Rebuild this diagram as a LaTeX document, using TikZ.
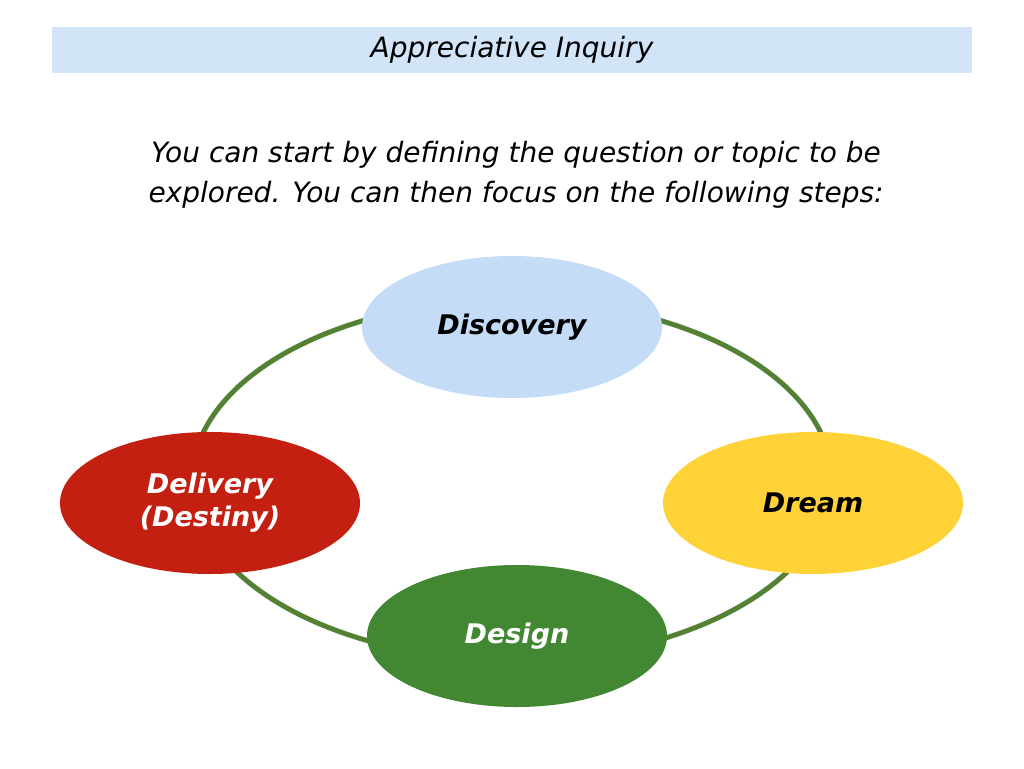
\documentclass[tikz,border=0pt]{standalone}
\usepackage{fontspec}
\setmainfont{DejaVu Sans}
\begin{document}
\begin{tikzpicture}[x=1pt,y=-1pt,
  bub/.style={ellipse,minimum width=300pt,minimum height=142pt,inner sep=0pt,align=center,font=\fontsize{27}{33}\selectfont\bfseries\itshape},
  txt/.style={font=\fontsize{28}{34}\selectfont\itshape,inner sep=0pt},
  ring/.style={draw={rgb,255:red,84;green,130;blue,53},line width=5pt}]
\usetikzlibrary{shapes.geometric}
\useasboundingbox (0,0) rectangle (1024,768);
\fill[fill={rgb,255:red,210;green,228;blue,248}] (52,27) rectangle (972,73);
\node[txt] (title) at (512,50) {Appreciative Inquiry};
\node[txt] (intro1) at (516,155) {You can start by defining the question or topic to be};
\node[txt] (intro2) at (516,195) {explored. You can then focus on the following steps:};
\coordinate (c) at (512,480);
\draw[ring] (c) ellipse [x radius=320, y radius=180];
\node[bub,fill={rgb,255:red,197;green,220;blue,246}] (disc) at (512,327) {Discovery};
\node[bub,fill={rgb,255:red,255;green,210;blue,55}] (dream) at (813,503) {Dream};
\node[bub,fill={rgb,255:red,66;green,135;blue,50},text=white] (design) at (517,636) {Design};
\node[bub,fill={rgb,255:red,196;green,32;blue,18},text=white] (deliv) at (210,503) {Delivery\\(Destiny)};
\end{tikzpicture}
\end{document}
